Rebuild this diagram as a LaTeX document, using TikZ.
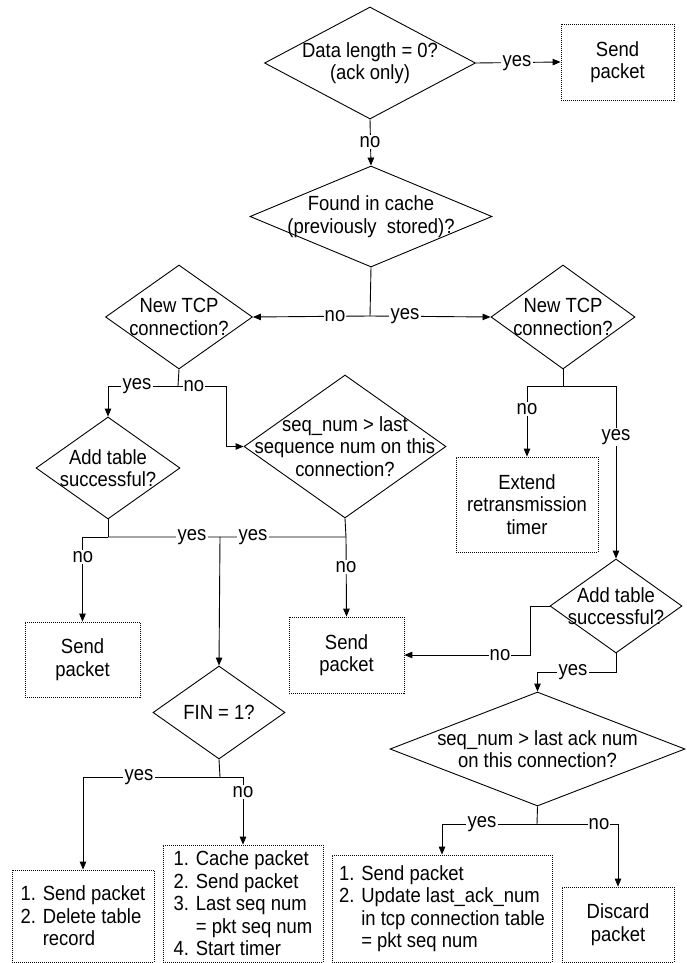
\documentclass[tikz,border=0pt]{standalone}
\usepackage{fontspec}
\setmainfont{Liberation Sans}[FakeStretch=0.9]
\usetikzlibrary{shapes.geometric,arrows.meta}
\begin{document}
\begin{tikzpicture}[x=1pt,y=-1pt,
  every node/.style={font=\fontsize{20.5}{22.5}\selectfont},
  dia/.style={draw, diamond, inner sep=0pt, line width=0.9pt},
  box/.style={draw, line width=0.8pt, dash pattern=on 1pt off 1pt, inner sep=0pt},
  txt/.style={align=center, inner sep=0pt},
  lst/.style={align=left, inner sep=0pt},
  lbl/.style={fill=white, inner sep=1.2pt},
  ln/.style={line width=0.9pt},
  arr/.style={ln, -{Triangle[length=8pt,width=6.5pt]}}]
\useasboundingbox (0,0) rectangle (686,963);
% diamonds
\node[dia, minimum width=211pt, minimum height=112pt] (d1) at (370,63) {};
\node[txt] (d1t) at (d1) {Data length = 0?\\(ack only)};
\node[dia, minimum width=242pt, minimum height=101pt] (d2) at (371,216.5) {};
\node[txt] (d2t) at (d2) {Found in cache\\(previously~ stored)?};
\node[dia, minimum width=147pt, minimum height=104pt] (d3) at (179,317) {};
\node[txt] (d3t) at (d3) {New TCP\\connection?};
\node[dia, minimum width=144pt, minimum height=104pt] (d4) at (563,317) {};
\node[txt] (d4t) at (d4) {New TCP\\connection?};
\node[dia, minimum width=144pt, minimum height=102pt] (d5) at (108,468) {};
\node[txt] (d5t) at (d5) {Add table\\successful?};
\node[dia, minimum width=202pt, minimum height=143pt] (d6) at (345,446.5) {};
\node[txt] (d6t) at (d6) {seq\_num > last\\sequence num on this\\connection?};
\node[dia, minimum width=132pt, minimum height=93pt] (d7) at (219,712.5) {};
\node[txt] (d7t) at (d7) {FIN = 1?};
\node[dia, minimum width=132pt, minimum height=94pt] (d8) at (616,606) {};
\node[txt] (d8t) at (d8) {Add table\\successful?};
\node[dia, minimum width=295pt, minimum height=114pt] (d9) at (537.5,749) {};
\node[txt] (d9t) at (d9) {seq\_num > last ack num\\on this connection?};
% boxes
\node[box, minimum width=113pt, minimum height=76pt, align=center] (sp1) at (617.5,62) {Send\\packet};
\node[box, minimum width=142pt, minimum height=95pt, align=center] (ext) at (527,504.5) {Extend\\retransmission\\timer};
\node[box, minimum width=115pt, minimum height=75pt, align=center] (sp2) at (82.5,659.5) {Send\\packet};
\node[box, minimum width=115pt, minimum height=76pt, align=center] (sp3) at (346.5,655) {Send\\packet};
\node[box, minimum width=142pt, minimum height=92pt] (l1) at (83,916) {};
\node[lst] (l1t) at (l1) {1. Send packet\\2. Delete table\\\phantom{2. }record};
\node[box, minimum width=160pt, minimum height=117pt] (l2) at (243,903.5) {};
\node[lst] (l2t) at (l2) {1. Cache packet\\2. Send packet\\3. Last seq num\\\phantom{3. }= pkt seq num\\4. Start timer};
\node[box, minimum width=220pt, minimum height=107pt] (l3) at (442,908.5) {};
\node[lst] (l3t) at (l3) {1. Send packet\\2. Update last\_ack\_num\\\phantom{2. }in tcp connection table\\\phantom{2. }= pkt seq num};
\node[box, minimum width=112pt, minimum height=75pt, align=center] (l4) at (618,924.5) {Discard\\packet};
% junction coordinates
\coordinate (j1) at (370,316);
\coordinate (j2) at (178,386);
\coordinate (c1) at (226,386);
\coordinate (j3) at (108,537);
\coordinate (j4) at (220,537);
\coordinate (j5) at (346,537);
\coordinate (j6) at (563,386);
\coordinate (c2) at (530,606);
\coordinate (c3) at (616,672);
\coordinate (j7) at (220,777);
\coordinate (j8) at (537,824);
% connectors
\draw[arr] (d1.east) -- (sp1.west);
\draw[arr] (d1.south) -- (d2.north);
\draw[ln] (d2.south) -- (j1);
\draw[arr] (j1) -- (d3.east);
\draw[arr] (j1) -- (d4.west);
\draw[ln] (d3.south) -- (j2);
\draw[arr] (j2) -| (d5.north);
\draw[arr] (j2) -- (c1) |- (d6.west);
\draw[ln] (d5.south) -- (j3);
\draw[arr] (j3) -| (sp2.north);
\draw[arr] (j3) -- (j4) -- (d7.north);
\draw[ln] (d6.south) -- (j5) -- (j4);
\draw[arr] (j5) -- (sp3.north);
\draw[ln] (d4.south) -- (j6);
\draw[arr] (j6) -| (ext.north);
\draw[arr] (j6) -| (d8.north);
\draw[arr] (d8.west) -- (c2) |- (sp3.east);
\draw[arr] (d8.south) -- (c3) -| (d9.north);
\draw[ln] (d7.south) -- (j7);
\draw[arr] (j7) -| (l1.north);
\draw[arr] (j7) -| (l2.north);
\draw[ln] (d9.south) -- (j8);
\draw[arr] (j8) -| (l3.north);
\draw[arr] (j8) -| (l4.north);
% labels
\node[lbl] (y1) at (517,63) {yes};
\node[lbl] (n1) at (370,142) {no};
\node[lbl] (n2) at (335,316) {no};
\node[lbl] (y2) at (405,316) {yes};
\node[lbl] (y3) at (137,386) {yes};
\node[lbl] (n3) at (194,386) {no};
\node[lbl] (n4) at (83,557) {no};
\node[lbl] (y4) at (192,537) {yes};
\node[lbl] (y5) at (253,537) {yes};
\node[lbl] (n5) at (346,567) {no};
\node[lbl] (n6) at (527,409) {no};
\node[lbl] (y6) at (616,437) {yes};
\node[lbl] (n7) at (500,655) {no};
\node[lbl] (y7) at (573,672) {yes};
\node[lbl] (y8) at (139,777) {yes};
\node[lbl] (n8) at (243,792) {no};
\node[lbl] (y9) at (482,824) {yes};
\node[lbl] (n9) at (599,824) {no};
\end{tikzpicture}
\end{document}
